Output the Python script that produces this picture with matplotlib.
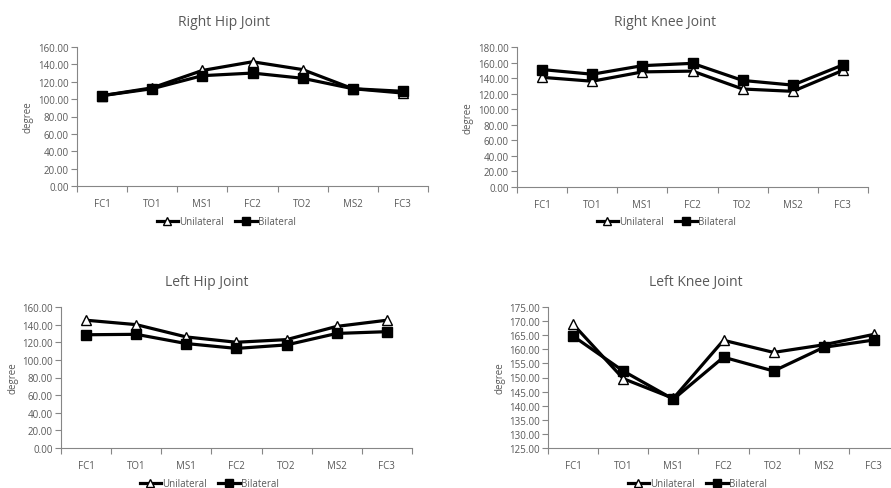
import numpy as np
import matplotlib
matplotlib.use("Agg")
import matplotlib.pyplot as plt
from matplotlib.ticker import FixedLocator, FormatStrFormatter

plt.rcParams['font.family'] = ['Open Sans', 'DejaVu Sans']

phases = ["FC1", "TO1", "MS1", "FC2", "TO2", "MS2", "FC3"]

r_hip_uni = [104, 113, 133, 143, 134, 112, 107]
r_hip_bi = [104, 112, 127, 130, 124, 112, 109]

r_knee_uni = [141, 136, 148, 149, 126, 123, 150]
r_knee_bi = [151, 145, 156, 159, 137, 131, 157]

l_hip_uni = [145, 140, 126, 120, 123, 138, 145]
l_hip_bi = [128.5, 129, 118.5, 113, 117, 130, 132]

l_knee_uni = [168.9, 149.6, 142.6, 163.2, 158.9, 161.6, 165.3]
l_knee_bi = [164.7, 152.3, 142.3, 157.2, 152.3, 160.7, 163.3]

TXT = "#595959"
AX = "#868686"
W, H = 891, 489

fig = plt.figure(figsize=(W / 100, H / 100), dpi=100)

# panel: (title, uni, bi, ylim, ystep, axes box in px [left, right, top, bottom],
#         title xy, ylabel x, legend xy)
panels = [
    ("Right Hip Joint", r_hip_uni, r_hip_bi, (0, 160), 20,
     (77, 428, 48, 187), (224, 22), 28, (226, 223)),
    ("Right Knee Joint", r_knee_uni, r_knee_bi, (0, 180), 20,
     (517, 868, 48, 188), (665, 22), 468, (666, 223)),
    ("Left Hip Joint", l_hip_uni, l_hip_bi, (0, 160), 20,
     (61, 412, 308, 449), (207, 283), 13, (209, 485)),
    ("Left Knee Joint", l_knee_uni, l_knee_bi, (125, 175), 5,
     (548, 899, 308, 449), (696, 283), 500, (697, 485)),
]

x = np.arange(len(phases))

for title, uni, bi, ylim, ystep, box, tpos, ylx, lpos in panels:
    l, r, t, b = box
    ax = fig.add_axes([l / W, 1 - b / H, (r - l) / W, (b - t) / H])
    ax.plot(x, uni, color="black", lw=2.3, marker="^", ms=7,
            mfc="white", mec="black", mew=1.0, label="Unilateral", zorder=3)
    ax.plot(x, bi, color="black", lw=2.3, marker="s", ms=6.5,
            mfc="black", mec="black", label="Bilateral", zorder=3)
    ax.set_xlim(-0.5, len(phases) - 0.5)
    ax.set_ylim(*ylim)
    ax.yaxis.set_major_locator(FixedLocator(np.arange(ylim[0], ylim[1] + 0.1, ystep)))
    ax.yaxis.set_major_formatter(FormatStrFormatter("%.2f"))
    ax.set_xticks(x)
    ax.set_xticklabels(phases)
    ax.xaxis.set_minor_locator(FixedLocator(np.arange(-0.5, len(phases), 1.0)))
    ax.tick_params(axis="x", which="major", length=0, pad=9, labelsize=7, labelcolor=TXT)
    ax.tick_params(axis="x", which="minor", length=4, width=0.8, color=AX, direction="out")
    ax.tick_params(axis="y", length=4, width=0.8, color=AX, labelsize=7,
                   labelcolor=TXT, pad=2)
    for s in ("top", "right"):
        ax.spines[s].set_visible(False)
    for s in ("left", "bottom"):
        ax.spines[s].set_color(AX)
        ax.spines[s].set_linewidth(0.8)

    fig.text(tpos[0] / W, 1 - tpos[1] / H, title, ha="center", va="center",
             fontsize=10, color=TXT)
    fig.text(ylx / W, 1 - ((t + b) / 2) / H, "degree", rotation=90,
             ha="center", va="center", fontsize=7, color=TXT)
    leg = fig.legend(*ax.get_legend_handles_labels(), loc="center",
                     bbox_to_anchor=(lpos[0] / W, 1 - lpos[1] / H), ncol=2,
                     frameon=False, fontsize=7, handlelength=2.2,
                     handletextpad=0.1, columnspacing=1.2, markerscale=0.8)
    for txt in leg.get_texts():
        txt.set_color(TXT)

fig.savefig("out.png", dpi=100)
